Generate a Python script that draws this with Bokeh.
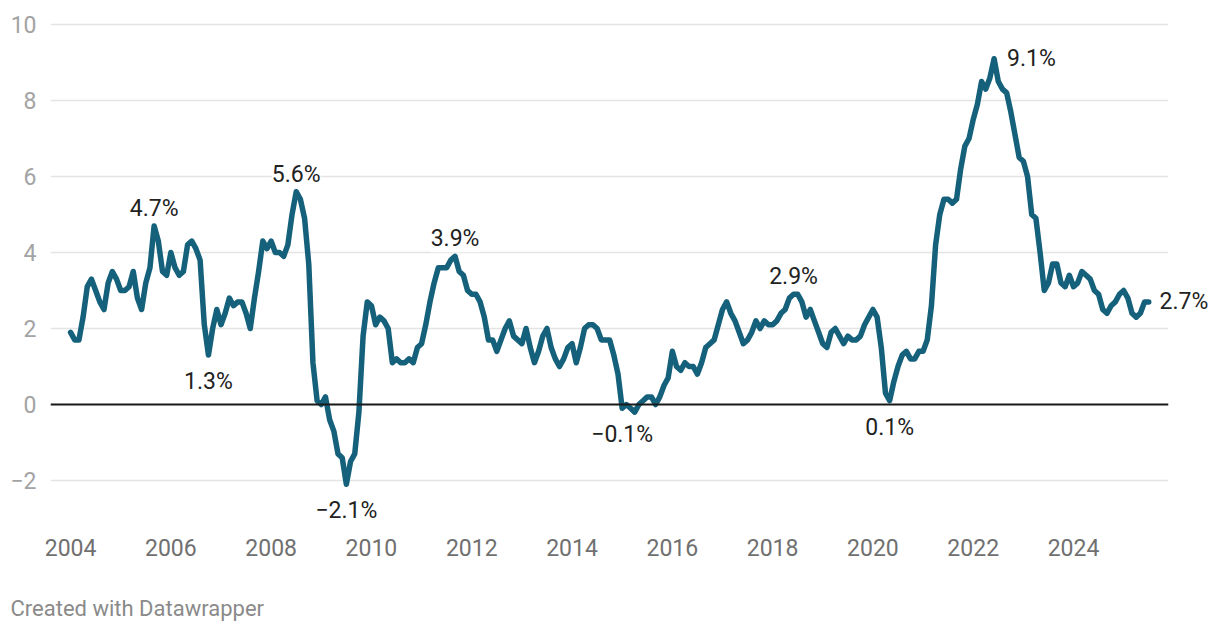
from bokeh.plotting import figure
from bokeh.models import (FixedTicker, Span, Label, Title, ColumnDataSource,
                          LinearAxis, PrintfTickFormatter)
from bokeh.embed import file_html
from bokeh.resources import INLINE

# ---------------- data ----------------
start_year = 2004
cpi_yoy = [
    # 2004
    1.9, 1.7, 1.7, 2.3, 3.1, 3.3, 3.0, 2.7, 2.5, 3.2, 3.5, 3.3,
    # 2005
    3.0, 3.0, 3.1, 3.5, 2.8, 2.5, 3.2, 3.6, 4.7, 4.3, 3.5, 3.4,
    # 2006
    4.0, 3.6, 3.4, 3.5, 4.2, 4.3, 4.1, 3.8, 2.1, 1.3, 2.0, 2.5,
    # 2007
    2.1, 2.4, 2.8, 2.6, 2.7, 2.7, 2.4, 2.0, 2.8, 3.5, 4.3, 4.1,
    # 2008
    4.3, 4.0, 4.0, 3.9, 4.2, 5.0, 5.6, 5.4, 4.9, 3.7, 1.1, 0.1,
    # 2009
    0.0, 0.2, -0.4, -0.7, -1.3, -1.4, -2.1, -1.5, -1.3, -0.2, 1.8, 2.7,
    # 2010
    2.6, 2.1, 2.3, 2.2, 2.0, 1.1, 1.2, 1.1, 1.1, 1.2, 1.1, 1.5,
    # 2011
    1.6, 2.1, 2.7, 3.2, 3.6, 3.6, 3.6, 3.8, 3.9, 3.5, 3.4, 3.0,
    # 2012
    2.9, 2.9, 2.7, 2.3, 1.7, 1.7, 1.4, 1.7, 2.0, 2.2, 1.8, 1.7,
    # 2013
    1.6, 2.0, 1.5, 1.1, 1.4, 1.8, 2.0, 1.5, 1.2, 1.0, 1.2, 1.5,
    # 2014
    1.6, 1.1, 1.5, 2.0, 2.1, 2.1, 2.0, 1.7, 1.7, 1.7, 1.3, 0.8,
    # 2015
    -0.1, 0.0, -0.1, -0.2, 0.0, 0.1, 0.2, 0.2, 0.0, 0.2, 0.5, 0.7,
    # 2016
    1.4, 1.0, 0.9, 1.1, 1.0, 1.0, 0.8, 1.1, 1.5, 1.6, 1.7, 2.1,
    # 2017
    2.5, 2.7, 2.4, 2.2, 1.9, 1.6, 1.7, 1.9, 2.2, 2.0, 2.2, 2.1,
    # 2018
    2.1, 2.2, 2.4, 2.5, 2.8, 2.9, 2.9, 2.7, 2.3, 2.5, 2.2, 1.9,
    # 2019
    1.6, 1.5, 1.9, 2.0, 1.8, 1.6, 1.8, 1.7, 1.7, 1.8, 2.1, 2.3,
    # 2020
    2.5, 2.3, 1.5, 0.3, 0.1, 0.6, 1.0, 1.3, 1.4, 1.2, 1.2, 1.4,
    # 2021
    1.4, 1.7, 2.6, 4.2, 5.0, 5.4, 5.4, 5.3, 5.4, 6.2, 6.8, 7.0,
    # 2022
    7.5, 7.9, 8.5, 8.3, 8.6, 9.1, 8.5, 8.3, 8.2, 7.7, 7.1, 6.5,
    # 2023
    6.4, 6.0, 5.0, 4.9, 4.0, 3.0, 3.2, 3.7, 3.7, 3.2, 3.1, 3.4,
    # 2024
    3.1, 3.2, 3.5, 3.4, 3.3, 3.0, 2.9, 2.5, 2.4, 2.6, 2.7, 2.9,
    # 2025
    3.0, 2.8, 2.4, 2.3, 2.4, 2.7, 2.7,
]
dates = [start_year + i / 12 for i in range(len(cpi_yoy))]

x_ticks = [2004, 2006, 2008, 2010, 2012, 2014, 2016, 2018, 2020, 2022, 2024]
y_ticks = [-2, 0, 2, 4, 6, 8, 10]

# annotated points: (month index, label text, placement)
ann_index = [20, 33, 54, 66, 92, 132, 173, 196, 221]
ann_text = ["4.7%", "1.3%", "5.6%", "\u22122.1%", "3.9%", "\u22120.1%",
            "2.9%", "0.1%", "9.1%"]
ann_place = ["above", "below", "above", "below", "above", "below",
             "above", "below", "right"]

# ---------------- figure ----------------
FONT = "Roboto"
p = figure(frame_width=1118, frame_height=505,
           output_backend="svg", toolbar_location=None,
           x_range=(2003.60, 2025.894), y_range=(-3.184, 10.105),
           min_border_left=50, min_border_right=44, min_border_top=20,
           min_border_bottom=97, outline_line_color=None)
p.background_fill_color = "white"
p.border_fill_color = "white"

src = ColumnDataSource(dict(x=dates, y=cpi_yoy))
p.line("x", "y", source=src, line_color="#15607a", line_width=5.5,
       line_join="round", line_cap="round")

p.add_layout(Span(location=0, dimension="width", line_color="#1a1a1a",
                  line_width=2))

# axes
p.xaxis.ticker = FixedTicker(ticks=x_ticks)
p.yaxis.ticker = FixedTicker(ticks=y_ticks)
p.yaxis.major_label_overrides = {-2: "\u22122"}
for ax in (p.xaxis[0], p.yaxis[0]):
    ax.axis_line_color = None
    ax.major_tick_line_color = None
    ax.minor_tick_line_color = None
    ax.major_label_text_font = FONT
    ax.major_label_text_font_size = "23px"
p.xaxis.major_label_text_color = "#707070"
p.yaxis.major_label_text_color = "#a3a3a3"
p.xaxis.major_label_standoff = 7
p.yaxis.major_label_standoff = 8

p.xgrid.grid_line_color = None
p.ygrid.grid_line_color = "#e4e4e4"
p.ygrid.grid_line_width = 1.5

# end-of-line value label, drawn as a right axis with a single tick
end_axis = LinearAxis(ticker=FixedTicker(ticks=[cpi_yoy[-1]]),
                      formatter=PrintfTickFormatter(format="%.1f%%"),
                      axis_line_color=None, major_tick_line_color=None,
                      minor_tick_line_color=None,
                      major_label_text_font=FONT,
                      major_label_text_font_size="23px",
                      major_label_text_color="#222222",
                      major_label_standoff=-15)
p.add_layout(end_axis, "right")

# annotations
for idx, txt, place in zip(ann_index, ann_text, ann_place):
    kw = dict(x=dates[idx], y=cpi_yoy[idx], text=txt, text_font=FONT,
              text_font_size="23px", text_color="#222222",
              background_fill_color="white", background_fill_alpha=1.0,
              level="overlay")
    if place == "above":
        kw.update(text_align="center", text_baseline="bottom", y_offset=4)
    elif place == "below":
        kw.update(text_align="center", text_baseline="top", y_offset=-13)
    else:
        kw.update(text_align="left", text_baseline="middle", x_offset=13)
    p.add_layout(Label(**kw))

footer = Title(text="Created with Datawrapper", align="left", offset=-40,
               text_font=FONT, text_font_size="22px", text_color="#8a8a8a",
               text_font_style="normal", standoff=71)
p.add_layout(footer, "below")

open("out.html", "w").write(file_html(p, INLINE))
